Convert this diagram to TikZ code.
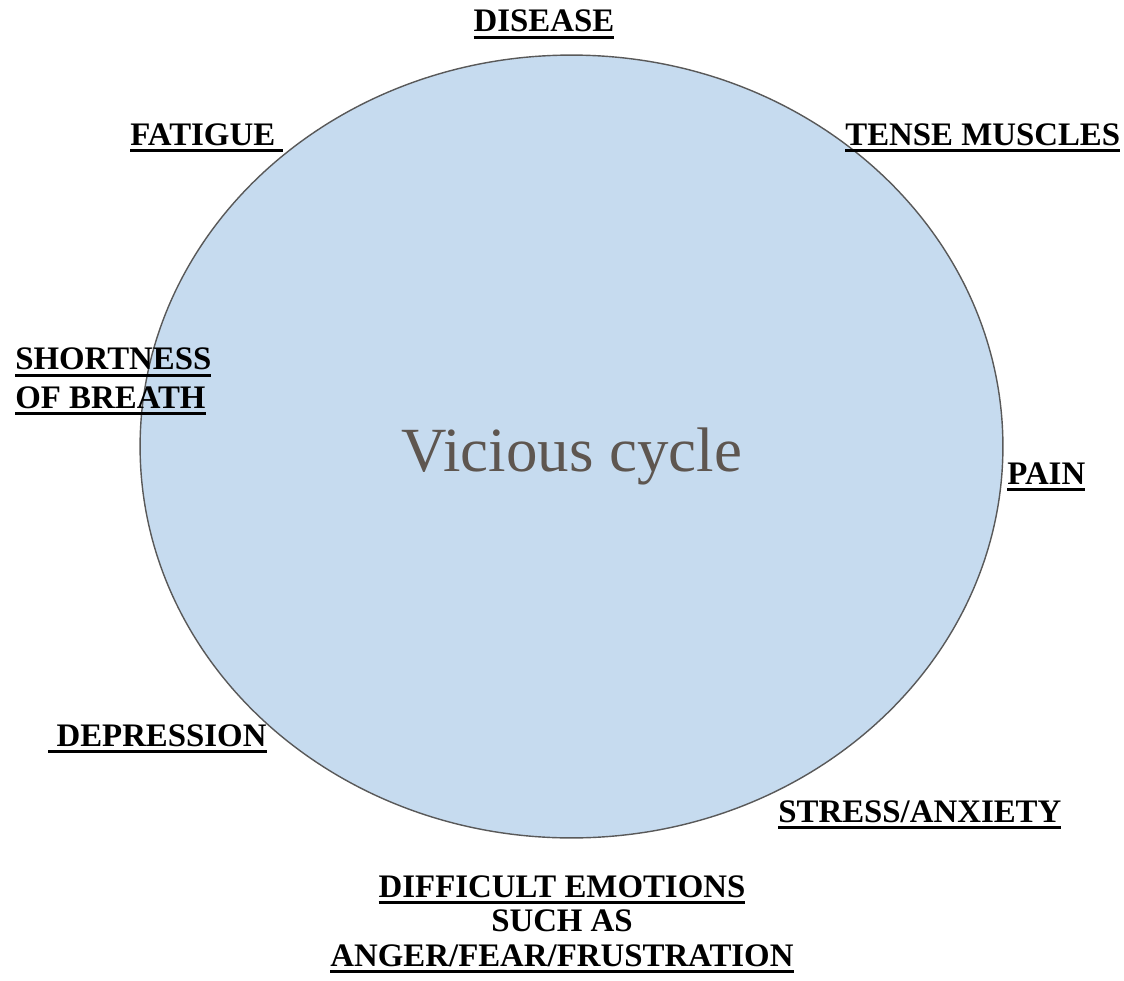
\documentclass[tikz,border=0pt]{standalone}
\usepackage{fontspec}
\setmainfont{Liberation Serif}
\usetikzlibrary{shapes.geometric}

\definecolor{cyclefill}{RGB}{198,219,239}
\definecolor{cycleline}{RGB}{89,89,89}
\definecolor{cycletext}{RGB}{94,86,80}

% thick underline under one line of a label
\newcommand{\ulbox}[1]{\leavevmode\setbox0=\hbox{#1}\rlap{\rule[-4pt]{\wd0}{1.7pt}}\box0}

\tikzset{
  factor/.style={inner sep=0pt, font=\fontsize{18.7pt}{21.5pt}\selectfont\bfseries},
}

\begin{document}
\begin{tikzpicture}[x=0.02cm, y=-0.02cm]
\useasboundingbox (0,0) rectangle (1124,980);

\path (571.5,446.5) node (cycle) [ellipse, draw=cycleline, fill=cyclefill, line width=0.8pt, inner sep=0pt, minimum width=17.26cm, minimum height=15.66cm] {};

\node[anchor=base, text=cycletext, inner sep=0pt, font=\fontsize{35.8pt}{40pt}\selectfont] at (572,471) (title) {Vicious cycle};

\path (544,32) node (disease) [factor, anchor=base] {\ulbox{DISEASE}};
\path (130,145) node (fatigue) [factor, anchor=base west] {\ulbox{FATIGUE }};
\path (845,145) node (tense) [factor, anchor=base west] {\ulbox{TENSE MUSCLES}};
\path (15,408) node (breath) [factor, anchor=base west, align=left, font=\fontsize{18.7pt}{21.7pt}\selectfont\bfseries] {\ulbox{SHORTNESS}\\ \ulbox{OF BREATH}};
\path (1007,484) node (pain) [factor, anchor=base west] {\ulbox{PAIN}};
\path (48,746) node (depression) [factor, anchor=base west] {\ulbox{ DEPRESSION}};
\path (778,822) node (stress) [factor, anchor=base west] {\ulbox{STRESS/ANXIETY}};
\path (562,966) node (emotions) [factor, anchor=base, align=center, font=\fontsize{18.7pt}{19.6pt}\selectfont\bfseries] {\ulbox{DIFFICULT EMOTIONS}\\ SUCH AS\\ \ulbox{ANGER/FEAR/FRUSTRATION}};

\end{tikzpicture}
\end{document}
